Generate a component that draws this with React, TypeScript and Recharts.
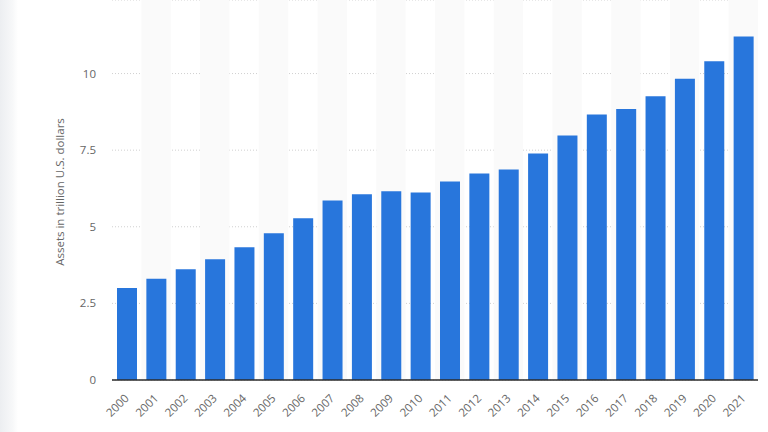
import React from "react";
import { BarChart, Bar, XAxis, YAxis, CartesianGrid, ReferenceArea } from "recharts";

const years = [
  "2000", "2001", "2002", "2003", "2004", "2005", "2006", "2007", "2008", "2009", "2010",
  "2011", "2012", "2013", "2014", "2015", "2016", "2017", "2018", "2019", "2020", "2021",
];
const assets = [
  3.0, 3.3, 3.61, 3.94, 4.33, 4.79, 5.28, 5.86, 6.06, 6.16, 6.12,
  6.48, 6.74, 6.87, 7.39, 7.98, 8.66, 8.84, 9.26, 9.83, 10.4, 11.21,
];
const yTicks = [0, 2.5, 5, 7.5, 10];

const data = years.map((year, i) => ({ year, assets: assets[i] }));

const FONT = "'Open Sans', sans-serif";

function YearTick({ x, y, payload }: { x?: number; y?: number; payload?: { value: string } }) {
  const tx = (x ?? 0) + 3;
  const ty = (y ?? 0) + 11;
  return (
    <text
      x={tx}
      y={ty}
      transform={`rotate(-45, ${tx}, ${ty})`}
      textAnchor="end"
      fontSize={11.5}
      fill="#666"
      fontFamily={FONT}
    >
      {payload?.value}
    </text>
  );
}

function AxisTitle() {
  return (
    <text
      x={64}
      y={192}
      transform="rotate(-90, 64, 192)"
      textAnchor="middle"
      fontSize={11.5}
      fill="#666"
      fontFamily={FONT}
    >
      Assets in trillion U.S. dollars
    </text>
  );
}

export default function App() {
  return (
    <div style={{ position: "absolute", left: 0, top: 0, width: 768, height: 432, background: "#fff" }}>
      <div
        style={{
          position: "absolute",
          left: 0,
          top: 0,
          width: 18,
          height: 432,
          background: "linear-gradient(to right, #eceef1, #f7f8f9 70%, #ffffff)",
        }}
      />
      <BarChart
        width={768}
        height={432}
        data={data}
        margin={{ top: 0, right: 10, left: 0, bottom: 0 }}
        style={{ position: "absolute", left: 0, top: 0 }}
      >
        {years
          .filter((_, i) => i % 2 === 1)
          .map((y) => (
            <ReferenceArea key={y} x1={y} x2={y} fill="#fafafa" fillOpacity={1} stroke="none" />
          ))}
        <CartesianGrid vertical={false} stroke="#d0d0d0" strokeDasharray="1 2" />
        <XAxis
          dataKey="year"
          height={52}
          tickLine={false}
          axisLine={{ stroke: "#2b2b2b", strokeWidth: 1.5 }}
          interval={0}
          tick={<YearTick />}
        />
        <YAxis
          width={112}
          domain={[0, 12.4]}
          ticks={yTicks}
          tickLine={false}
          axisLine={false}
          tickMargin={10}
          tick={{ fontSize: 11.5, fill: "#666", fontFamily: FONT }}
          label={<AxisTitle />}
        />
        <Bar dataKey="assets" fill="#2876dc" barSize={20} isAnimationActive={false} />
      </BarChart>
    </div>
  );
}
